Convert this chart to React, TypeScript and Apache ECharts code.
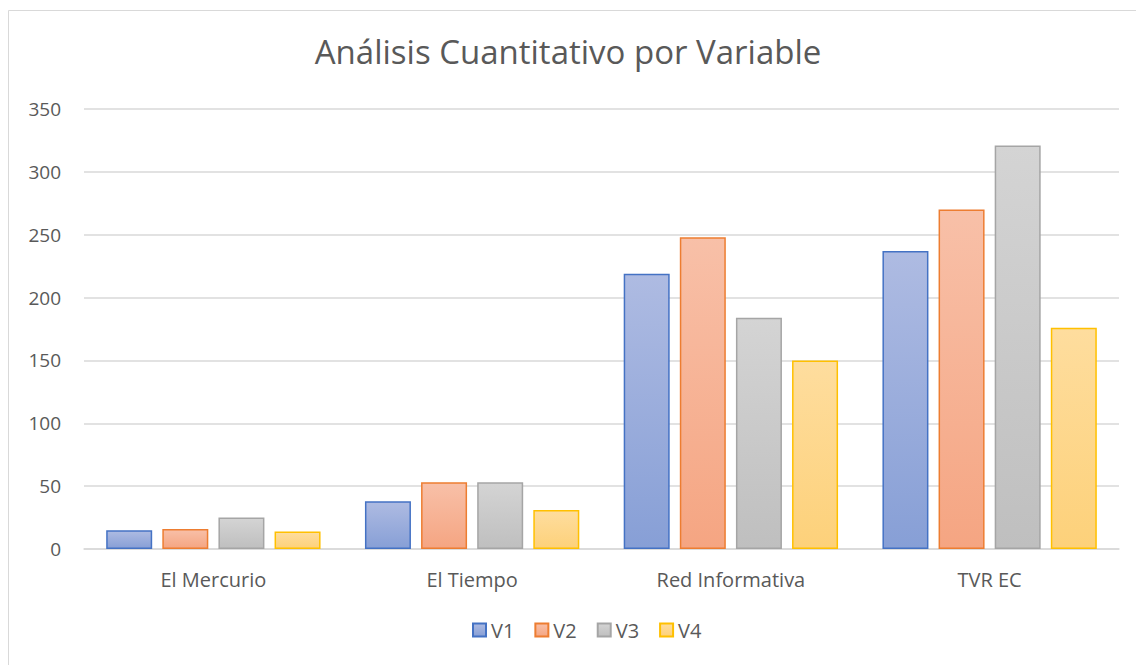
import React, { useEffect, useRef } from "react";
import * as echarts from "echarts";

const categories = ["El Mercurio", "El Tiempo", "Red Informativa", "TVR EC"];
const seriesNames = ["V1", "V2", "V3", "V4"];
const v1 = [15, 38, 219, 237];
const v2 = [16, 53, 248, 270];
const v3 = [25, 53, 184, 321];
const v4 = [14, 31, 150, 176];
const yTicks = [0, 50, 100, 150, 200, 250, 300, 350];

const palette = [
  { top: "#aebbe2", bottom: "#879fd6", border: "#4472c4" },
  { top: "#f8c0a8", bottom: "#f5a582", border: "#ed7d31" },
  { top: "#d4d4d4", bottom: "#bfbfbf", border: "#a5a5a5" },
  { top: "#fedd9e", bottom: "#fdd17a", border: "#ffc000" },
];

const FONT = "Open Sans";

export default function App() {
  const ref = useRef<HTMLDivElement>(null);
  useEffect(() => {
    if (!ref.current) return;
    const chart = echarts.init(ref.current, undefined, { renderer: "svg" });
    const values = [v1, v2, v3, v4];
    chart.setOption({
      animation: false,
      backgroundColor: "#ffffff",
      textStyle: { fontFamily: FONT },
      title: {
        text: "Análisis Cuantitativo por Variable",
        left: "center",
        top: 30,
        textStyle: { fontFamily: FONT, fontSize: 33, fontWeight: "normal", color: "#595959" },
      },
      graphic: [
        {
          type: "rect",
          shape: { x: 8.5, y: 10.5, width: 1140, height: 670 },
          style: { fill: "none", stroke: "#d9d9d9", lineWidth: 1 },
          silent: true,
        },
      ],
      legend: {
        bottom: 20,
        left: 467,
        icon: "rect",
        itemWidth: 13,
        itemHeight: 13,
        itemGap: 20,
        textStyle: { fontFamily: FONT, fontSize: 20, color: "#595959" },
        data: seriesNames,
      },
      grid: { left: 84, right: 17, top: 109, bottom: 116, containLabel: false },
      xAxis: {
        type: "category",
        data: categories,
        axisLine: { lineStyle: { color: "#d9d9d9", width: 1.5 } },
        axisTick: { show: false },
        axisLabel: { fontFamily: FONT, fontSize: 20, color: "#595959", margin: 20 },
      },
      yAxis: {
        type: "value",
        min: yTicks[0],
        max: yTicks[yTicks.length - 1],
        interval: 50,
        axisLine: { show: false },
        axisTick: { show: false },
        splitLine: { lineStyle: { color: "#d9d9d9", width: 1.5 } },
        axisLabel: { fontFamily: FONT, fontSize: 19, color: "#595959", margin: 23 },
      },
      series: seriesNames.map((name, i) => ({
        name,
        type: "bar",
        data: values[i],
        barWidth: 46,
        barGap: "22%",
        itemStyle: {
          color: new echarts.graphic.LinearGradient(0, 0, 0, 1, [
            { offset: 0, color: palette[i].top },
            { offset: 1, color: palette[i].bottom },
          ]),
          borderColor: palette[i].border,
          borderWidth: 1.5,
        },
      })),
    });
    return () => chart.dispose();
  }, []);
  return (
    <div
      ref={ref}
      style={{ position: "absolute", left: 0, top: 0, width: 1136, height: 665 }}
    />
  );
}
